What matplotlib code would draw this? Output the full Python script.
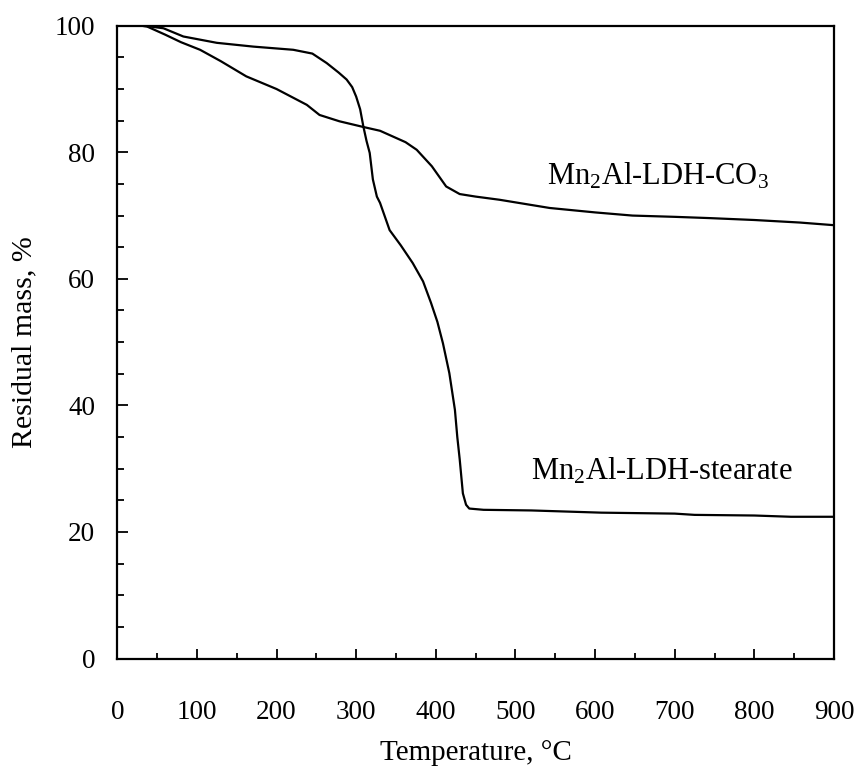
import matplotlib
matplotlib.use('Agg')
import matplotlib.pyplot as plt
from matplotlib.ticker import MultipleLocator

plt.rcParams['font.family'] = ['Liberation Serif', 'DejaVu Serif']
plt.rcParams['mathtext.fontset'] = 'custom'
plt.rcParams['mathtext.rm'] = 'Liberation Serif'
plt.rcParams['mathtext.it'] = 'Liberation Serif'

# Mn2Al-LDH-CO3
co3_temp = [30, 37, 60, 80, 104, 130, 162, 200, 238, 254, 279, 309, 330,
            346, 362, 376, 395, 413, 430, 450, 480, 543, 600, 647, 700,
            744, 800, 857, 898]
co3_mass = [100.0, 99.9, 98.6, 97.4, 96.2, 94.4, 92.0, 90.0, 87.5, 85.9,
            84.9, 84.0, 83.4, 82.5, 81.6, 80.4, 77.8, 74.6, 73.4, 73.0,
            72.5, 71.2, 70.5, 70.0, 69.8, 69.6, 69.3, 68.9, 68.5]

# Mn2Al-LDH-stearate
st_temp = [30, 40, 58, 83, 125, 171, 221, 245, 263, 278, 288, 295, 300,
           305, 309, 313, 317, 321, 326, 330, 342, 356, 371, 384, 394,
           402, 409, 417, 424, 427, 430, 434, 438, 442, 460, 520, 608,
           700, 725, 800, 846, 900]
st_mass = [100.0, 99.9, 99.6, 98.3, 97.3, 96.7, 96.2, 95.6, 94.1, 92.6,
           91.5, 90.3, 88.8, 86.8, 84.1, 81.8, 79.9, 75.7, 73.0, 72.0,
           67.7, 65.3, 62.5, 59.6, 56.2, 53.2, 49.8, 45.1, 39.3, 35.0,
           31.5, 26.1, 24.3, 23.7, 23.5, 23.4, 23.05, 22.9, 22.7, 22.6,
           22.4, 22.4]

fig = plt.figure(figsize=(8.61, 7.73), dpi=100)
ax = fig.add_axes([0.1362, 0.1481, 0.8324, 0.8186])

ax.plot(co3_temp, co3_mass, color='black', lw=1.6)
ax.plot(st_temp, st_mass, color='black', lw=1.6)

ax.text(540, 74.9, r'Mn$_2$Al-LDH-CO$_3$', fontsize=22, ha='left', va='baseline')
ax.text(520, 28.3, r'Mn$_2$Al-LDH-stearate', fontsize=22, ha='left', va='baseline')

ax.set_xlim(0, 900)
ax.set_ylim(0, 100)
ax.xaxis.set_major_locator(MultipleLocator(100))
ax.xaxis.set_minor_locator(MultipleLocator(50))
ax.yaxis.set_major_locator(MultipleLocator(20))
ax.yaxis.set_minor_locator(MultipleLocator(5))

ax.tick_params(which='both', direction='in', width=1.3, labelsize=19.5)
ax.tick_params(axis='x', which='major', length=7.5, pad=30)
ax.tick_params(axis='x', which='minor', length=4.5)
ax.tick_params(axis='y', which='major', length=8, pad=16)
ax.tick_params(axis='y', which='minor', length=5)

for s in ax.spines.values():
    s.set_linewidth(1.6)

ax.set_xlabel('Temperature, °C', fontsize=21)
ax.set_ylabel('Residual mass, %', fontsize=21.5)
ax.xaxis.set_label_coords(0.5, -0.129)
ax.yaxis.set_label_coords(-0.112, 0.5)

fig.savefig('out.png', dpi=100)
